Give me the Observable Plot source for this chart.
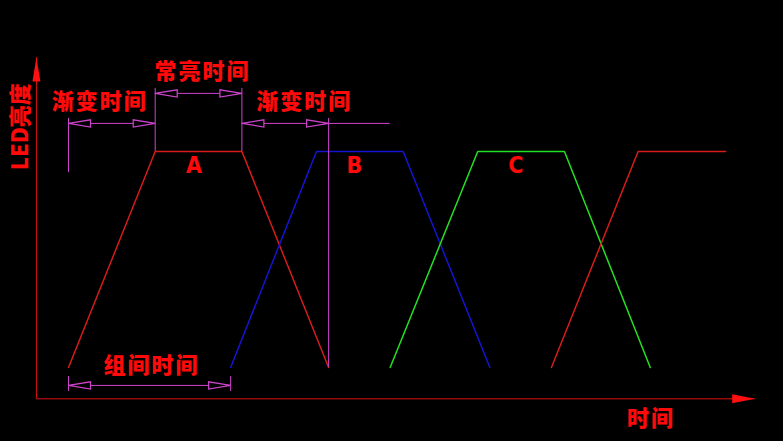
<!DOCTYPE html>
<html><head><meta charset="utf-8">
<script src="https://cdn.jsdelivr.net/npm/d3@7"></script>
<script src="https://cdn.jsdelivr.net/npm/@observablehq/plot@0.6"></script>
<style>
html,body{margin:0;padding:0;background:#000;}
#chart svg text{letter-spacing:2px;}
#chart svg g.ylab text{letter-spacing:0px;}
</style></head><body><div id="chart"></div>
<script>
// Trapezoid brightness series (time units, brightness 0..1)
const seriesNames = ["A", "B", "C", "D"];
const seriesColors = ["#d41c1c", "#1414d2", "#24e024", "#d41c1c"];
const seriesT = [[0, 1, 2, 3], [1.87, 2.86, 3.86, 4.86], [3.71, 4.72, 5.72, 6.71], [5.57, 6.57, 7.58]];
const seriesV = [[0, 1, 1, 0], [0, 1, 1, 0], [0, 1, 1, 0], [0, 1, 1]];

// Peak labels
const peakLabels = ["A", "B", "C"];
const peakX = [1.46, 3.31, 5.17];
const peakY = [0.935, 0.935, 0.935];

// Dimension annotations
const dimLabels = ["渐变时间", "常亮时间", "渐变时间", "组间时间"];
const dimStart = [0, 1, 2, 0];
const dimEnd = [1, 2, 3, 1.87];
const dimLevel = [1.13, 1.269, 1.13, -0.083];
const dimLabelX = [0.36, 1.545, 2.72, 0.957];
const dimLabelY = [1.231, 1.366, 1.231, 0.005];

// Extension lines
const extX = [0, 1, 2, 3, 0, 1.87];
const extLow = [0.903, 1, 1, 0, -0.111, -0.111];
const extHigh = [1.153, 1.292, 1.292, 1.153, -0.042, -0.042];
const extHY = [1.13];
const extHX1 = [3];
const extHX2 = [3.71];

// Axes
const axisX0 = -0.37, axisY0 = -0.145, xAxisEnd = 7.92, yAxisEnd = 1.435;
const axisLabels = ["时间", "LED亮度"];
const axisLabelX = [6.72, -0.545];
const axisLabelY = [-0.24, 1.115];
const axisLabelRotate = [0, -90];

const RED = "#ff0a0a", MAG = "#cc44cc", FONT = "'Noto Sans CJK SC', sans-serif";

const tri = (dx, dy, len, half) => ({
  draw(ctx) {
    const px = -dy, py = dx;
    ctx.moveTo(0, 0);
    ctx.lineTo(-dx * len + px * half, -dy * len + py * half);
    ctx.lineTo(-dx * len - px * half, -dy * len - py * half);
    ctx.closePath();
  }
});
const axisRight = tri(1, 0, 23, 4.5), axisUp = tri(0, -1, 24, 4);
const dimRight = tri(1, 0, 22, 3.6), dimLeft = tri(-1, 0, 22, 3.6);

const dims = dimLabels.map((l, i) => ({l, x1: dimStart[i], x2: dimEnd[i], y: dimLevel[i], lx: dimLabelX[i], ly: dimLabelY[i]}));
const exts = extX.map((x, i) => ({x, y1: extLow[i], y2: extHigh[i]}));
const extH = extHY.map((y, i) => ({y, x1: extHX1[i], x2: extHX2[i]}));

const marks = [];
marks.push(Plot.ruleY([axisY0], {x1: axisX0, x2: xAxisEnd, stroke: "#e01010", strokeWidth: 1}));
marks.push(Plot.ruleX([axisX0], {y1: axisY0, y2: yAxisEnd, stroke: "#e01010", strokeWidth: 1}));
marks.push(Plot.dot([{x: xAxisEnd, y: axisY0}], {x: "x", y: "y", symbol: axisRight, fill: "#ff1010", stroke: "none"}));
marks.push(Plot.dot([{x: axisX0, y: yAxisEnd}], {x: "x", y: "y", symbol: axisUp, fill: "#ff1010", stroke: "none"}));

seriesNames.forEach((s, i) => {
  const pts = seriesT[i].map((t, j) => ({t, v: seriesV[i][j]}));
  marks.push(Plot.line(pts, {x: "t", y: "v", stroke: seriesColors[i], strokeWidth: 1.5}));
});

marks.push(Plot.ruleX(exts, {x: "x", y1: "y1", y2: "y2", stroke: MAG, strokeWidth: 1}));
marks.push(Plot.ruleY(extH, {y: "y", x1: "x1", x2: "x2", stroke: MAG, strokeWidth: 1}));
marks.push(Plot.ruleY(dims, {y: "y", x1: "x1", x2: "x2", stroke: MAG, strokeWidth: 1}));
marks.push(Plot.dot(dims, {x: "x1", y: "y", symbol: dimLeft, fill: "black", stroke: MAG, strokeWidth: 1.2}));
marks.push(Plot.dot(dims, {x: "x2", y: "y", symbol: dimRight, fill: "black", stroke: MAG, strokeWidth: 1.2}));
marks.push(Plot.text(dims, {x: "lx", y: "ly", text: "l", fill: RED, fontSize: 22, fontWeight: 900, fontFamily: FONT, textAnchor: "middle", lineAnchor: "middle"}));

marks.push(Plot.text(peakLabels, {x: (d, i) => peakX[i], y: (d, i) => peakY[i], text: d => d, fill: RED, fontSize: 23, fontWeight: "bold", fontFamily: "'DejaVu Sans Condensed', 'Liberation Sans Narrow', sans-serif", textAnchor: "middle", lineAnchor: "middle"}));

axisLabels.forEach((l, i) => {
  marks.push(Plot.text([l], {x: axisLabelX[i], y: axisLabelY[i], text: d => d, rotate: axisLabelRotate[i], fill: RED, fontSize: 22, fontWeight: 900, fontFamily: FONT, textAnchor: "middle", lineAnchor: "middle", className: i === 1 ? "ylab" : undefined}));
});

const chart = Plot.plot({
  width: 783, height: 441, margin: 0,
  style: {background: "black"},
  x: {domain: [0, 7.58], range: [68, 68 + 86.7 * 7.58], axis: null},
  y: {domain: [0, 1], range: [367, 151], axis: null},
  marks
});
document.getElementById("chart").append(chart);
</script></body></html>
